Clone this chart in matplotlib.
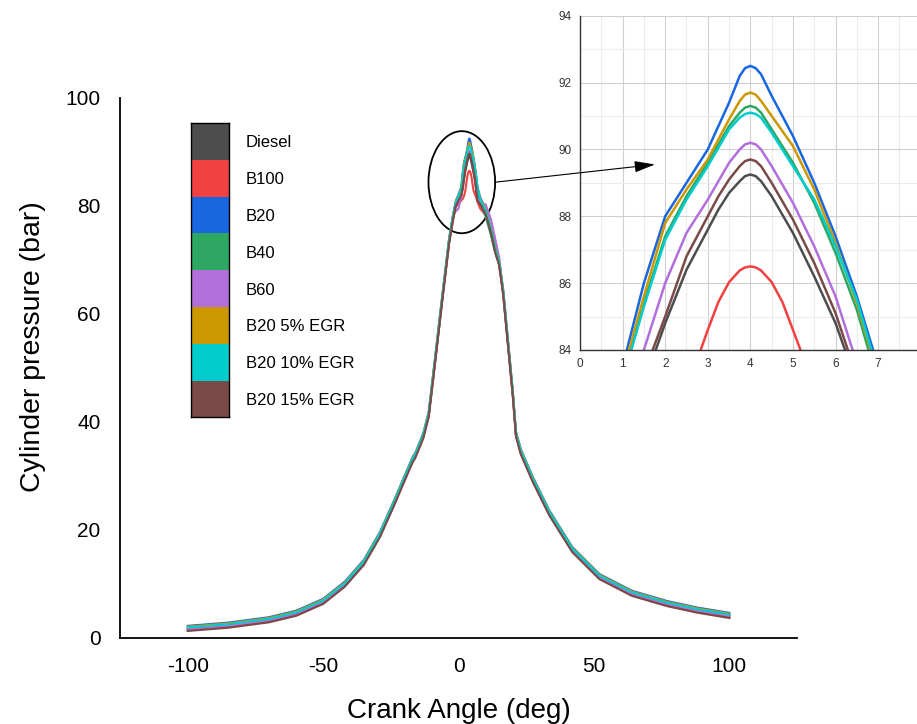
import numpy as np
import matplotlib.pyplot as plt
from matplotlib.patches import Ellipse, ConnectionPatch

plt.rcParams['font.family'] = ['Liberation Sans', 'DejaVu Sans']
plt.rcParams['axes.unicode_minus'] = False

# crank angle (deg), finer steps around the pressure peak
crank = [-100, -85, -70, -60, -50, -42, -35, -29, -24, -20, -17, -16, -13, -11, -9, -6, -3.5, -2, -1, 0,
         1, 1.5, 2, 2.5, 3, 3.25, 3.5, 3.75, 3.875, 4, 4.125, 4.25, 4.5, 4.75, 5, 5.5, 6, 6.5, 7,
         8, 10, 12, 13.5, 15, 16.5, 18, 20, 21.2, 23, 27.5, 33.5, 42, 52, 64, 77, 88, 100]

# cylinder pressure (bar)
p_diesel = [1.6, 2.2, 3.2, 4.4, 6.6, 9.8, 13.8, 19.0, 24.6, 29.3, 32.8, 33.6, 37.3, 41.3, 49.8, 62.8, 73.3, 77.8, 80.3, 81.0,
            81.8, 83.0, 84.8, 86.4, 87.6, 88.2, 88.7, 89.05, 89.2, 89.25, 89.2, 89.05, 88.6, 88.05, 87.5, 86.2, 84.8, 83.0, 80.8,
            80.2, 78.8, 75.3, 71.8, 69.3, 63.8, 55.8, 45.3, 37.6, 34.3, 29.1, 23.0, 16.2, 11.2, 8.1, 6.2, 5.0, 4.0]
p_b100 = [1.45, 2.05, 3.05, 4.25, 6.45, 9.65, 13.65, 18.85, 24.45, 29.15, 32.65, 33.45, 37.15, 41.15, 49.65, 62.65, 73.15, 77.65, 79.8, 80.5,
          81.0, 81.3, 81.8, 82.8, 84.6, 85.44, 86.03, 86.38, 86.47, 86.5, 86.47, 86.38, 86.03, 85.44, 84.6, 82.9, 82.2, 81.6, 80.8,
          79.5, 78.3, 75.1, 71.6, 69.1, 63.6, 55.6, 45.1, 37.45, 34.15, 28.95, 22.85, 16.05, 11.05, 7.95, 6.05, 4.85, 3.85]
p_b20 = [2.25, 2.85, 3.85, 5.05, 7.25, 10.45, 14.45, 19.65, 25.25, 29.95, 33.45, 34.25, 37.95, 41.95, 50.45, 63.45, 73.95, 78.45, 80.95, 82.2,
         83.5, 86.0, 88.0, 89.0, 90.0, 90.7, 91.4, 92.2, 92.43, 92.5, 92.43, 92.25, 91.6, 91.0, 90.4, 89.0, 87.4, 85.6, 83.5,
         81.6, 79.45, 75.95, 72.45, 69.95, 64.45, 56.45, 45.95, 38.25, 34.95, 29.75, 23.65, 16.85, 11.85, 8.75, 6.85, 5.65, 4.65]
p_b40 = [1.8, 2.4, 3.4, 4.6, 6.8, 10.0, 14.0, 19.2, 24.8, 29.5, 33.0, 33.8, 37.5, 41.5, 50.0, 63.0, 73.5, 78.0, 80.5, 81.8,
         83.1, 85.4, 87.4, 88.6, 89.6, 90.15, 90.7, 91.1, 91.25, 91.3, 91.25, 91.1, 90.6, 90.1, 89.6, 88.4, 86.9, 85.2, 83.0,
         80.6, 78.0, 74.5, 71.3, 69.3, 64.0, 56.0, 45.5, 37.8, 34.5, 29.3, 23.2, 16.4, 11.4, 8.3, 6.4, 5.2, 4.2]
p_b60 = [1.7, 2.3, 3.3, 4.5, 6.7, 9.9, 13.9, 19.1, 24.7, 29.4, 32.9, 33.7, 37.4, 41.4, 49.9, 62.9, 73.4, 78.5, 79.0, 79.5,
         81.8, 84.0, 86.0, 87.5, 88.5, 89.05, 89.6, 90.0, 90.15, 90.2, 90.15, 90.0, 89.5, 88.95, 88.4, 87.1, 85.6, 83.6, 81.3,
         80.5, 80.3, 77.5, 74.0, 70.5, 63.9, 55.9, 45.4, 37.7, 34.4, 29.2, 23.1, 16.3, 11.3, 8.2, 6.3, 5.1, 4.1]
p_b20_egr5 = [2.1, 2.7, 3.7, 4.9, 7.1, 10.3, 14.3, 19.5, 25.1, 29.8, 33.3, 34.1, 37.8, 41.8, 50.3, 63.3, 73.8, 78.3, 80.8, 82.0,
              83.3, 85.6, 87.8, 88.8, 89.7, 90.3, 90.9, 91.45, 91.64, 91.7, 91.64, 91.45, 91.0, 90.55, 90.1, 88.8, 87.2, 85.4, 83.2,
              81.4, 79.3, 75.8, 72.3, 69.8, 64.3, 56.3, 45.8, 38.1, 34.8, 29.6, 23.5, 16.7, 11.7, 8.6, 6.7, 5.5, 4.5]
p_b20_egr10 = [1.95, 2.55, 3.55, 4.75, 6.95, 10.15, 14.15, 19.35, 24.95, 29.65, 33.15, 33.95, 37.65, 41.65, 50.15, 63.15, 73.65, 78.15, 80.65, 81.9,
               83.1, 85.3, 87.3, 88.5, 89.5, 90.05, 90.6, 90.95, 91.06, 91.1, 91.06, 90.95, 90.5, 90.0, 89.5, 88.5, 87.1, 85.5, 83.3,
               81.2, 79.15, 75.65, 72.15, 69.65, 64.15, 56.15, 45.65, 37.95, 34.65, 29.45, 23.35, 16.55, 11.55, 8.45, 6.55, 5.35, 4.35]
p_b20_egr15 = [1.3, 1.9, 2.9, 4.1, 6.3, 9.5, 13.5, 18.7, 24.3, 29.0, 32.5, 33.3, 37.0, 41.0, 49.5, 62.5, 73.0, 77.5, 80.0, 81.0,
               82.0, 83.3, 85.0, 86.8, 88.0, 88.6, 89.1, 89.5, 89.65, 89.7, 89.65, 89.5, 89.0, 88.45, 87.9, 86.6, 85.1, 83.2, 81.0,
               80.3, 78.5, 75.0, 71.5, 69.0, 63.5, 55.5, 45.0, 37.3, 34.0, 28.8, 22.7, 15.9, 10.9, 7.8, 5.9, 4.7, 3.7]

fuels = ['Diesel', 'B100', 'B20', 'B40', 'B60', 'B20 5% EGR', 'B20 10% EGR', 'B20 15% EGR']
pressures = [p_diesel, p_b100, p_b20, p_b40, p_b60, p_b20_egr5, p_b20_egr10, p_b20_egr15]
colors = ['#4d4d4d', '#f24141', '#1866e0', '#2ea763', '#b26fdc', '#cc9800', '#00cccc', '#7a4a48']

fig = plt.figure(figsize=(9.17, 7.24), dpi=100)

# main plot
ax = fig.add_axes([0.1309, 0.1188, 0.7383, 0.7459])
for p, c in zip(pressures, colors):
    ax.plot(crank, p, color=c, lw=1.5)
ax.set_xlim(-125, 125)
ax.set_ylim(0, 100)
ax.set_xticks([-100, -50, 0, 50, 100])
ax.set_yticks([0, 20, 40, 60, 80, 100])
ax.tick_params(length=0, labelsize=15, pad=14)
for s in ['top', 'right']:
    ax.spines[s].set_visible(False)
for s in ['left', 'bottom']:
    ax.spines[s].set_linewidth(1.3)
ax.set_xlabel('Crank Angle (deg)', fontsize=20, labelpad=15.5)
ax.set_ylabel('Cylinder pressure (bar)', fontsize=20.5, labelpad=14, y=0.54)

# circle round the peak
ax.add_patch(Ellipse((1.2, 84.4), width=24.6, height=18.9, fill=False,
                     ec='black', lw=1.3))

# zoomed view of the peak
axins = fig.add_axes([0.6325, 0.5166, 0.3716, 0.4617])
axins.set_facecolor('white')
for p, c in zip(pressures, colors):
    axins.plot(crank, p, color=c, lw=1.8)
axins.set_xlim(0, 8)
axins.set_ylim(84, 94)
axins.set_xticks(np.arange(0, 8, 1))
axins.set_xticks(np.arange(0, 8.5, 0.5), minor=True)
axins.set_yticks(np.arange(84, 95, 2))
axins.set_yticks(np.arange(84, 95, 1), minor=True)
axins.grid(which='major', color='#cfcfcf', lw=0.8)
axins.grid(which='minor', color='#ececec', lw=0.8)
axins.set_axisbelow(True)
axins.tick_params(which='both', length=0, labelsize=8.5, colors='#333333', pad=6)
for s in ['top', 'right']:
    axins.spines[s].set_visible(False)
for s in ['left', 'bottom']:
    axins.spines[s].set_color('#333333')
    axins.spines[s].set_linewidth(1.0)

arrow = ConnectionPatch(xyA=(13.5, 84.4), coordsA=ax.transData,
                        xyB=(1.76, 89.55), coordsB=axins.transData,
                        arrowstyle='-|>,head_length=0.9,head_width=0.25',
                        mutation_scale=14, color='black', lw=0.8)
fig.add_artist(arrow)

# colour key
kax = fig.add_axes([0.2083, 0.4236, 0.0418, 0.4065])
kax.barh(range(len(fuels)), [1] * len(fuels), height=1.0, color=colors)
kax.set_xlim(0, 1)
kax.set_ylim(len(fuels) - 0.5, -0.5)
kax.set_xticks([])
kax.set_yticks(range(len(fuels)), fuels)
kax.yaxis.tick_right()
kax.tick_params(axis='y', length=0, pad=12, labelsize=12)
for s in kax.spines.values():
    s.set_linewidth(1.0)

fig.savefig('out.png', dpi=100)
